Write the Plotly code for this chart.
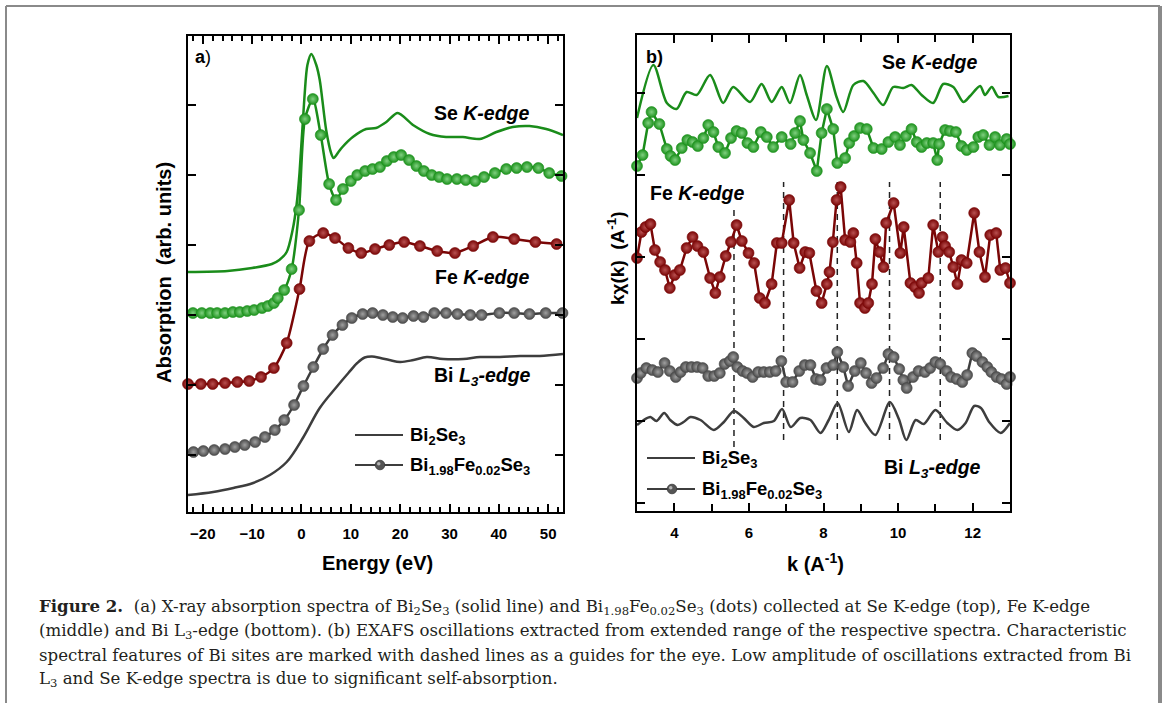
import plotly.graph_objects as go

W, H = 1163, 703

# ---------------- Panel (a): XANES, energy in eV, absorption in arb. units
se_sol_E = [-23, -15, -10, -6, -4.5, -3, -1.8, -1, -0.4, 0.6, 1.2, 2.0, 3.0, 3.7, 5.0, 6.0, 6.5, 7.5, 8.3,
            10.4, 13.1, 15.1, 17.2, 19.5, 22.6, 26, 29.3, 32.7, 36.1, 39.5, 42.8, 46.2, 49.6, 53]
se_sol_A = [183, 184, 187, 191, 195, 203, 225, 250, 282, 358, 390, 401, 390, 375, 325, 302, 297, 303, 308,
            318, 326, 327, 333, 342, 330, 321, 318, 318, 316, 323, 328, 329, 326, 320]

se_dot_E = [-22.0, -20.2, -18.5, -17.1, -15.5, -13.9, -12.5, -11.0, -9.6, -8.0, -6.8, -5.6, -4.8, -3.5, -2.0,
            -0.5, 0.7, 2.3, 3.9, 5.6, 7.0, 8.4, 10.0, 11.3, 12.9, 14.4, 15.9, 17.3, 18.7, 20.2, 21.8, 23.3,
            24.8, 26.4, 27.9, 29.5, 31.5, 33.3, 35.2, 37.0, 39.2, 41.5, 43.6, 45.7, 48.0, 50.2, 52.7]
se_dot_A = [142, 142, 142, 142, 142, 143, 143, 144, 145, 147, 149, 152, 157, 165, 186,
            245, 336, 356, 320, 271, 255, 266, 274, 280, 284, 286, 288, 294, 298, 300, 295, 289,
            284, 280, 278, 276, 276, 275, 274, 278, 282, 286, 287, 288, 287, 282, 279]

fe_dot_E = [-23, -20.4, -18.0, -15.5, -13.0, -10.6, -8.2, -5.6, -3.0, -0.4, 1.6, 4.4, 6.8, 9.5, 12.1, 14.9,
            17.8, 20.8, 24.0, 27.5, 31.1, 34.8, 38.8, 43.1, 47.4, 51.7]
fe_dot_A = [71, 71, 71, 72, 73, 74, 78, 87, 112, 166, 214, 222, 217, 207, 202, 206,
            210, 213, 209, 204, 202, 209, 218, 216, 213, 211]

bi_dot_E = [-21.9, -19.9, -17.7, -15.5, -13.5, -11.5, -9.4, -7.4, -5.4, -3.5, -1.5, 0.4, 2.4, 4.4, 6.3, 8.3,
            10.2, 12.4, 14.4, 16.5, 18.5, 20.5, 22.7, 24.7, 26.9, 29.3, 31.6, 34.2, 36.5, 40.1, 43.1, 46.2,
            49.5, 52.9]
bi_dot_A = [3, 4, 5, 6, 8, 10, 13, 18, 25, 35, 50, 69, 88, 106, 120, 130,
            137, 141, 142, 140, 138, 137, 139, 138, 142, 142, 141, 140, 140, 142, 142, 141,
            142, 142]

bi_sol_E = [-23, -17.9, -13.8, -9.8, -6.4, -3.0, 0.4, 3.7, 7.1, 9.5, 11.3, 12.8, 14.3, 16.0, 17.8, 20.0,
            22.7, 25.4, 28.7, 32.8, 36.2, 40.2, 44.3, 48.3, 53]
bi_sol_A = [-40, -37, -33, -28, -20, -7, 18, 47, 68, 82, 92, 97.5, 98.5, 97, 95, 93,
            95, 98, 96, 96, 98, 98, 99, 99, 101]

# ---------------- Panel (b): EXAFS, k in A^-1, k*chi(k)
se_sol_k = [3.0, 3.44, 3.8, 4.06, 4.33, 4.6, 4.96, 5.31, 5.58, 6.03, 6.34, 6.61, 6.88, 7.1, 7.37, 7.55, 7.8,
            8.09, 8.35, 8.53, 8.8, 9.07, 9.34, 9.6, 9.87, 10.14, 10.36, 10.63, 10.94, 11.21, 11.48, 11.75,
            11.93, 12.2, 12.33, 12.51, 12.69, 12.96]
se_sol_x = [385, 438, 400, 394, 411, 408, 428, 400, 416, 401, 419, 401, 416, 400, 428, 408, 383,
            437, 406, 391, 418, 422, 410, 398, 416, 415, 418, 408, 400, 419, 416, 401,
            407, 417, 408, 416, 406, 407]

se_dot_k = [3.0, 3.15, 3.3, 3.39, 3.6, 3.8, 3.9, 4.02, 4.2, 4.35, 4.49, 4.63, 4.78, 4.91, 5.05, 5.18, 5.36,
            5.52, 5.67, 5.81, 5.96, 6.12, 6.32, 6.48, 6.65, 6.88, 7.12, 7.24, 7.37, 7.46, 7.64, 7.82, 7.95,
            8.09, 8.26, 8.37, 8.58, 8.69, 8.82, 8.98, 9.16, 9.34, 9.56, 9.74, 9.92, 10.05, 10.21, 10.36,
            10.5, 10.63, 10.77, 10.94, 11.05, 11.1, 11.26, 11.39, 11.55, 11.7, 11.84, 12.02, 12.15, 12.28,
            12.45, 12.6, 12.73, 12.91, 13.0]
se_dot_x = [337, 348, 380, 391, 379, 354, 347, 343, 355, 363, 361, 357, 365, 378, 371, 356, 350,
            365, 372, 370, 360, 356, 371, 366, 356, 366, 359, 370, 382, 363, 350, 332, 370,
            394, 374, 340, 345, 360, 367, 375, 374, 355, 354, 361, 366, 358, 367, 374,
            361, 356, 360, 360, 343, 359, 373, 372, 371, 357, 353, 356, 366, 368,
            358, 366, 358, 364, 359]

fe_dot_k = [3.0, 3.12, 3.23, 3.36, 3.48, 3.62, 3.75, 3.88, 4.01, 4.15, 4.33, 4.49, 4.62, 4.78, 4.96, 5.1,
            5.22, 5.38, 5.52, 5.67, 5.81, 5.99, 6.14, 6.29, 6.43, 6.61, 6.75, 6.88, 7.08, 7.2, 7.36, 7.51,
            7.62, 7.81, 7.95, 8.09, 8.16, 8.25, 8.35, 8.46, 8.58, 8.72, 8.8, 8.89, 8.98, 9.11, 9.2, 9.3,
            9.39, 9.5, 9.61, 9.68, 9.88, 10.06, 10.15, 10.33, 10.45, 10.56, 10.63, 10.81, 10.94, 11.08,
            11.19, 11.26, 11.37, 11.48, 11.59, 11.7, 11.84, 12.04, 12.18, 12.33, 12.47, 12.63, 12.74,
            12.88, 13.0]
fe_dot_x = [245, 271, 276, 279, 253, 241, 233, 215, 228, 233, 255, 266, 257, 251, 225, 210,
            226, 247, 261, 278, 262, 250, 240, 205, 200, 219, 260, 260, 303, 260, 235, 251,
            250, 212, 200, 219, 231, 261, 303, 316, 263, 261, 270, 240, 200, 195, 200, 219,
            264, 251, 236, 280, 300, 250, 276, 220, 216, 210, 220, 225, 278, 251,
            266, 257, 251, 236, 219, 243, 240, 290, 251, 226, 268, 270, 233,
            235, 220]

bi_dot_k = [3.0, 3.1, 3.25, 3.41, 3.56, 3.74, 3.88, 4.04, 4.17, 4.31, 4.46, 4.61, 4.76, 4.91, 5.07, 5.22,
            5.35, 5.49, 5.58, 5.69, 5.83, 5.95, 6.1, 6.25, 6.4, 6.56, 6.72, 6.87, 7.0, 7.17, 7.35, 7.5,
            7.65, 7.8, 7.92, 8.08, 8.26, 8.37, 8.53, 8.66, 8.84, 9.0, 9.14, 9.29, 9.42, 9.6, 9.74, 9.88,
            10.03, 10.14, 10.23, 10.4, 10.55, 10.72, 10.86, 11.0, 11.13, 11.3, 11.42, 11.57, 11.72, 11.85,
            11.99, 12.1, 12.26, 12.39, 12.5, 12.64, 12.77, 12.91, 13.0]
bi_dot_x = [125, 130, 135, 133, 131, 140, 132, 126, 131, 136, 136, 136, 135, 127, 127, 130,
            139, 142, 146, 136, 132, 130, 126, 131, 131, 131, 132, 142, 121, 121, 132, 138,
            138, 124, 123, 135, 138, 151, 136, 117, 132, 140, 130, 120, 125, 135, 149, 146,
            134, 123, 115, 126, 132, 131, 135, 141, 139, 132, 126, 124, 121, 128,
            150, 147, 141, 136, 131, 126, 124, 119, 126]

bi_sol_k = [3.0, 3.18, 3.36, 3.52, 3.73, 3.89, 4.09, 4.25, 4.43, 4.7, 5.06, 5.33, 5.6, 5.86, 6.13, 6.4,
            6.67, 6.89, 7.12, 7.38, 7.65, 7.92, 8.14, 8.38, 8.68, 8.9, 9.12, 9.39, 9.78, 10.02, 10.22,
            10.47, 10.69, 11.0, 11.32, 11.59, 11.81, 12.04, 12.22, 12.44, 12.75, 13.0]
bi_sol_x = [78, 83, 86, 82, 90, 83, 78, 81, 86, 83, 73, 81, 92, 85, 76, 80,
            82, 94, 76, 85, 83, 70, 83, 100, 71, 93, 80, 68, 101, 84, 63,
            83, 79, 93, 80, 73, 80, 97, 95, 81, 70, 80]

# guide lines (Bi features) in panel b
guide_k = [5.6, 6.93, 8.37, 9.77, 11.13]
guide_top = [296, 321, 321, 321, 321]
guide_bot = [56, 63, 63, 63, 63]

GREEN = "#1a8c1a"
GREEN_D = "#1d921d"
RED = "#7a0606"
GRAY_L = "#3d3d3d"
GRAY_D = "#4a4a4a"
FONT = "Liberation Sans, Arial, sans-serif"
SERIF = "DejaVu Serif, Liberation Serif, serif"


def dots(color, center):
    return dict(size=11, color=color, line=dict(width=0.6, color=color),
                gradient=dict(type="radial", color=center))


fig = go.Figure()

# Panel a
fig.add_trace(go.Scatter(x=se_sol_E, y=se_sol_A, mode="lines", name="Bi2Se3 Se K",
                         line=dict(color=GREEN, width=2.5, shape="spline", smoothing=0.8),
                         xaxis="x", yaxis="y", cliponaxis=False))
fig.add_trace(go.Scatter(x=se_dot_E, y=se_dot_A, mode="lines+markers", name="Bi1.98Fe0.02Se3 Se K",
                         line=dict(color=GREEN, width=2.5, shape="spline", smoothing=0.7),
                         marker=dots(GREEN_D, "#80d080"), xaxis="x", yaxis="y", cliponaxis=False))
fig.add_trace(go.Scatter(x=fe_dot_E, y=fe_dot_A, mode="lines+markers", name="Bi1.98Fe0.02Se3 Fe K",
                         line=dict(color=RED, width=2.5, shape="spline", smoothing=0.7),
                         marker=dots(RED, "#b85050"), xaxis="x", yaxis="y", cliponaxis=False))
fig.add_trace(go.Scatter(x=bi_dot_E, y=bi_dot_A, mode="lines+markers", name="Bi1.98Fe0.02Se3 Bi L3",
                         line=dict(color=GRAY_L, width=2.5, shape="spline", smoothing=0.7),
                         marker=dots(GRAY_D, "#a0a0a0"), xaxis="x", yaxis="y", cliponaxis=False))
fig.add_trace(go.Scatter(x=bi_sol_E, y=bi_sol_A, mode="lines", name="Bi2Se3 Bi L3",
                         line=dict(color=GRAY_L, width=2.5, shape="spline", smoothing=1.0),
                         xaxis="x", yaxis="y", cliponaxis=False))

# Panel b
fig.add_trace(go.Scatter(x=se_sol_k, y=se_sol_x, mode="lines", name="Bi2Se3 Se K",
                         line=dict(color=GREEN, width=2.5, shape="spline", smoothing=0.8),
                         xaxis="x2", yaxis="y2", cliponaxis=False))
fig.add_trace(go.Scatter(x=se_dot_k, y=se_dot_x, mode="lines+markers", name="Bi1.98Fe0.02Se3 Se K",
                         line=dict(color=GREEN, width=2.5), marker=dots(GREEN_D, "#80d080"),
                         xaxis="x2", yaxis="y2", cliponaxis=False))
fig.add_trace(go.Scatter(x=fe_dot_k, y=fe_dot_x, mode="lines+markers", name="Bi1.98Fe0.02Se3 Fe K",
                         line=dict(color=RED, width=2.5), marker=dots(RED, "#b85050"),
                         xaxis="x2", yaxis="y2", cliponaxis=False))
fig.add_trace(go.Scatter(x=bi_dot_k, y=bi_dot_x, mode="lines+markers", name="Bi1.98Fe0.02Se3 Bi L3",
                         line=dict(color=GRAY_L, width=2.5), marker=dots(GRAY_D, "#a0a0a0"),
                         xaxis="x2", yaxis="y2", cliponaxis=False))
fig.add_trace(go.Scatter(x=bi_sol_k, y=bi_sol_x, mode="lines", name="Bi2Se3 Bi L3",
                         line=dict(color=GRAY_L, width=2.5, shape="spline", smoothing=0.8),
                         xaxis="x2", yaxis="y2", cliponaxis=False))


def px(x, y):
    return x / W, 1 - y / H


axcommon = dict(showline=True, linewidth=2, linecolor="black", mirror="ticks", ticks="inside",
                tickwidth=1.5, tickcolor="black", showgrid=False, zeroline=False)

xa_dom = [188 / W, 563 / W]
xb_dom = [637 / W, 1010 / W]
ya_dom = [1 - 512 / H, 1 - 36 / H]
yb_dom = [1 - 511 / H, 1 - 35 / H]

fig.update_layout(
    width=W, height=H, margin=dict(l=0, r=0, t=0, b=0),
    paper_bgcolor="white", plot_bgcolor="white", showlegend=False,
    font=dict(family=FONT, color="black"),
    xaxis=dict(domain=xa_dom, anchor="y", range=[-23, 53], dtick=10, tick0=0, ticklen=8,
               minor=dict(dtick=2, ticks="inside", ticklen=5, tickwidth=1.5, tickcolor="black"),
               tickfont=dict(size=15, weight="bold"), ticklabelstandoff=7, **axcommon),
    yaxis=dict(domain=ya_dom, anchor="x", range=[-57, 419], dtick=70, tick0=0, ticklen=8,
               showticklabels=False, **axcommon),
    xaxis2=dict(domain=xb_dom, anchor="y2", range=[3, 13], dtick=2, tick0=0, ticklen=8,
                minor=dict(dtick=1, ticks="inside", ticklen=7, tickwidth=1.5, tickcolor="black"),
                tickfont=dict(size=15, weight="bold"), ticklabelstandoff=7, **axcommon),
    yaxis2=dict(domain=yb_dom, anchor="x2", range=[-8, 468], dtick=82, tick0=0, ticklen=8,
                showticklabels=False, **axcommon),
)

# dashed guides
for kx, t, b in zip(guide_k, guide_top, guide_bot):
    fig.add_shape(type="line", xref="x2", yref="y2", x0=kx, x1=kx, y0=b, y1=t,
                  line=dict(color="#222222", width=1.5, dash="6px,5px"), layer="below")

anns = []


def txt(x, y, s, size=17, xanchor="center", font=FONT, textangle=0, color="black"):
    xp, yp = px(x, y)
    anns.append(dict(x=xp, y=yp, xref="paper", yref="paper", text=s, showarrow=False,
                     xanchor=xanchor, yanchor="middle", textangle=textangle,
                     font=dict(size=size, family=font, color=color)))


txt(193, 57, "<b>a</b>)", 18, "left")
txt(644, 57, "<b>b)</b>", 18, "left")
txt(482, 113, "<b>Se <i>K-edge</i></b>", 19.5)
txt(482, 277, "<b>Fe <i>K-edge</i></b>", 19.5)
txt(482, 377, "<b>Bi <i>L<sub>3</sub>-edge</i></b>", 19.5)
txt(930, 62, "<b>Se <i>K-edge</i></b>", 19.5)
txt(697, 193, "<b>Fe <i>K-edge</i></b>", 19.5)
txt(932, 468, "<b>Bi <i>L<sub>3</sub>-edge</i></b>", 19.5)

txt(377, 563, "<b>Energy (eV)</b>", 20)
txt(815, 562, "<b>k (A<sup>-1</sup>)</b>", 20)
txt(164, 273, "<b>Absorption&nbsp;&nbsp;(arb. units)</b>", 20, textangle=-90)
txt(616, 258, "<b>kχ(k)&nbsp;&nbsp;(A<sup>-1</sup>)</b>", 19, textangle=-90)

# legends (drawn manually)
leg = [
    (355, 403, 435, 380, 465, 408),
    (647, 695, 458, 672, 489, 700),
]
for x0, x1, y1, mx, y2, tx in leg:
    for yy in (y1, y2):
        a0, b0 = px(x0, yy)
        a1, _ = px(x1, yy)
        fig.add_shape(type="line", xref="paper", yref="paper", x0=a0, x1=a1, y0=b0, y1=b0,
                      line=dict(color=GRAY_L, width=2.2))
    r = 4.8
    c0x, c0y = px(mx - r, y2 - r)
    c1x, c1y = px(mx + r, y2 + r)
    fig.add_shape(type="circle", xref="paper", yref="paper", x0=c0x, x1=c1x, y0=c0y, y1=c1y,
                  fillcolor="#555555", line=dict(color="#3a3a3a", width=0.8))
    h0x, h0y = px(mx - 3, y2 - 3)
    h1x, h1y = px(mx + 0.5, y2 + 0.5)
    fig.add_shape(type="circle", xref="paper", yref="paper", x0=h0x, x1=h1x, y0=h0y, y1=h1y,
                  fillcolor="#b5b5b5", line=dict(width=0))
    txt(tx, y1 + 1, "<b>Bi<sub>2</sub>Se<sub>3</sub></b>", 18.5, "left")
    txt(tx, y2 + 1, "<b>Bi<sub>1.98</sub>Fe<sub>0.02</sub>Se<sub>3</sub></b>", 18.5, "left")

# caption
cap = [
    "<b>Figure 2.</b>&nbsp;&nbsp;(a) X-ray absorption spectra of Bi<sub>2</sub>Se<sub>3</sub> (solid line) and "
    "Bi<sub>1.98</sub>Fe<sub>0.02</sub>Se<sub>3</sub> (dots) collected at Se K-edge (top), Fe K-edge",
    "(middle) and Bi L<sub>3</sub>-edge (bottom). (b) EXAFS oscillations extracted from extended range of the "
    "respective spectra. Characteristic",
    "spectral features of Bi sites are marked with dashed lines as a guides for the eye. Low amplitude of "
    "oscillations extracted from Bi",
    "L<sub>3</sub> and Se K-edge spectra is due to significant self-absorption.",
]
for i, line in enumerate(cap):
    txt(37, 607 + 24.3 * i, line, 16.6, "left", SERIF, color="#231f20")

fig.update_layout(annotations=anns)

# outer frame of the figure
fig.add_shape(type="line", xref="paper", yref="paper", x0=6 / W, x1=1160 / W, y0=1 - 6 / H, y1=1 - 6 / H,
              line=dict(color="#8a8a8a", width=2))
fig.add_shape(type="line", xref="paper", yref="paper", x0=6 / W, x1=6 / W, y0=1 - 6 / H, y1=0,
              line=dict(color="#8a8a8a", width=2))
fig.add_shape(type="line", xref="paper", yref="paper", x0=1160 / W, x1=1160 / W, y0=1 - 6 / H, y1=0,
              line=dict(color="#8a8a8a", width=4))

fig.write_html("out.html")
